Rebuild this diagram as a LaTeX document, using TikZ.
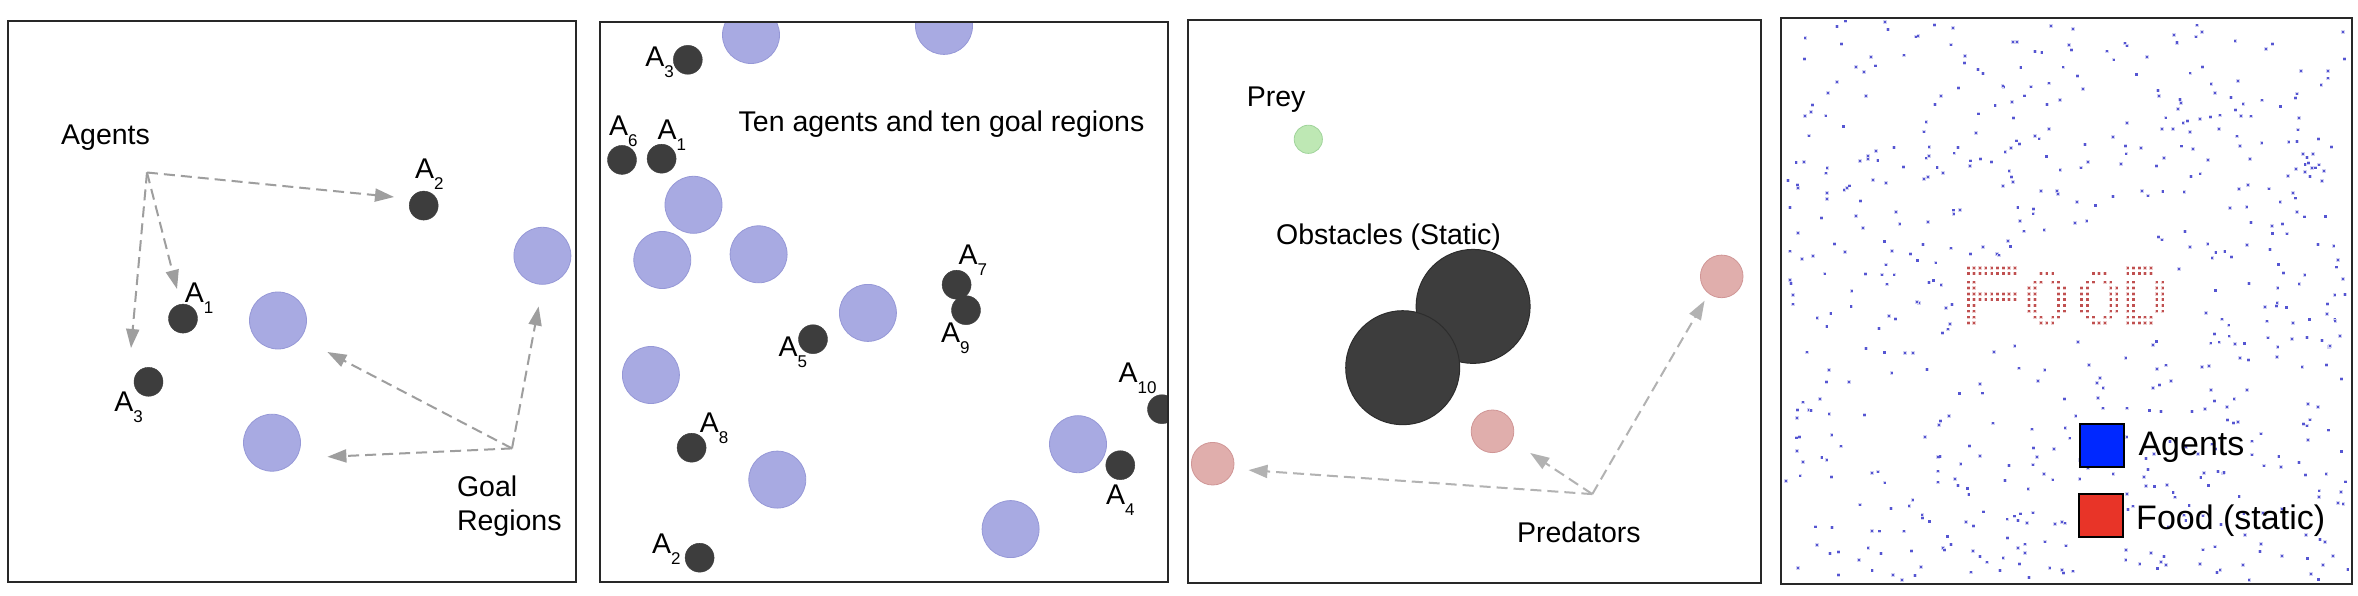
\documentclass[tikz,border=0pt]{standalone}
\usepackage{fontspec}
\setmainfont{Liberation Sans}
\usetikzlibrary{arrows.meta}
\definecolor{framecol}{RGB}{40,40,40}
\definecolor{goalblue}{RGB}{168,170,226}
\definecolor{goaledge}{RGB}{150,152,215}
\definecolor{agentdark}{RGB}{61,61,61}
\definecolor{arrowgray}{RGB}{158,158,158}
\definecolor{arrowlight}{RGB}{178,178,178}
\definecolor{predfill}{RGB}{224,174,172}
\definecolor{prededge}{RGB}{208,150,150}
\definecolor{preyfill}{RGB}{190,232,180}
\definecolor{preyedge}{RGB}{160,212,155}
\definecolor{dotblue}{RGB}{85,85,210}
\definecolor{dothalo}{RGB}{210,210,242}
\definecolor{fooddot}{RGB}{192,80,80}
\definecolor{foodhalo}{RGB}{238,205,205}
\definecolor{legblue}{RGB}{0,40,255}
\definecolor{legred}{RGB}{232,52,40}
\newcommand\agl[1]{A\raisebox{-11pt}{\fontsize{17}{17}\selectfont #1}}
\begin{document}
\begin{tikzpicture}[x=1pt,y=-1pt,
  frame/.style={draw=framecol,line width=2pt},
  agent/.style={circle,fill=agentdark,draw=agentdark,minimum size=29pt,inner sep=0pt},
  goal/.style={circle,fill=goalblue,draw=goaledge,line width=0.8pt,minimum size=57pt,inner sep=0pt},
  pred/.style={circle,fill=predfill,draw=prededge,line width=0.8pt,minimum size=42.6pt,inner sep=0pt},
  prey/.style={circle,fill=preyfill,draw=preyedge,line width=0.8pt,minimum size=28.2pt,inner sep=0pt},
  obst/.style={circle,fill=agentdark,draw={rgb,255:red,45;green,45;blue,45},line width=1pt,minimum size=114pt,inner sep=0pt},
  lbl/.style={anchor=base west,inner sep=0pt,font=\fontsize{28.5}{32}\selectfont},
  leglbl/.style={anchor=base west,inner sep=0pt,font=\fontsize{34}{38}\selectfont},
  darrow/.style={draw=arrowgray,line width=2pt,dash pattern=on 11pt off 6pt,-{Triangle[length=19pt,width=13pt]}},
  larrow/.style={draw=arrowlight,line width=2pt,dash pattern=on 11pt off 6pt,-{Triangle[length=19pt,width=13pt]}},
  legbox/.style={draw=black,line width=2.2pt,minimum width=44pt,minimum height=42.7pt,inner sep=0pt}
]
\useasboundingbox (0,0) rectangle (2358,596);
\fill[white] (0,0) rectangle (2358,596);

% ---------------- Panel 1 ----------------
\node[goal] (p1g1) at (278,320.5) {};
\node[goal] (p1g2) at (272,442.7) {};
\node[goal] (p1g3) at (542.4,255.8) {};
\node[agent] (p1a2) at (423.7,205.6) {};
\node[agent] (p1a1) at (183,318.6) {};
\node[agent] (p1a3) at (148.5,381.8) {};
\node[lbl] (p1l2) at (414.9,178.9) {\agl{2}};
\node[lbl] (p1l1) at (184.6,302.6) {\agl{1}};
\node[lbl] (p1l3) at (114.2,411.1) {\agl{3}};
\node[lbl] (p1agents) at (61,144.6) {Agents};
\node[lbl] (p1goal) at (456.8,496.8) {Goal};
\node[lbl] (p1regions) at (456.8,530) {Regions};
\coordinate (agsrc) at (147,172.5);
\coordinate (t2) at (394,197);
\coordinate (t1) at (177,289);
\coordinate (t3) at (131,348);
\draw[darrow] (agsrc) -- (t2);
\draw[darrow] (agsrc) -- (t1);
\draw[darrow] (agsrc) -- (t3);
\coordinate (gsrc) at (512,448.4);
\coordinate (g1) at (327.4,352);
\coordinate (g2) at (327.4,456.8);
\coordinate (g3) at (538.6,306.4);
\draw[darrow] (gsrc) -- (g1);
\draw[darrow] (gsrc) -- (g2);
\draw[darrow] (gsrc) -- (g3);
\draw[frame] (8,21) rectangle (576,582);

% ---------------- Panel 2 ----------------
\begin{scope}
\clip (599.5,22) rectangle (1168,582);
\node[goal] (p2g1) at (751,35) {};
\node[goal] (p2g2) at (944,25.9) {};
\node[goal] (p2g3) at (693.5,204.8) {};
\node[goal] (p2g4) at (662.3,260) {};
\node[goal] (p2g5) at (758.6,254.3) {};
\node[goal] (p2g6) at (867.9,312.9) {};
\node[goal] (p2g7) at (650.9,375) {};
\node[goal] (p2g8) at (777.3,479.6) {};
\node[goal] (p2g9) at (1078,444.2) {};
\node[goal] (p2g10) at (1010.6,529.1) {};
\node[agent] (p2a3) at (687.8,59.8) {};
\node[agent] (p2a6) at (622,159.9) {};
\node[agent] (p2a1) at (661.6,158.7) {};
\node[agent] (p2a7) at (956.6,284.7) {};
\node[agent] (p2a9) at (966,310.2) {};
\node[agent] (p2a5) at (813,339.2) {};
\node[agent] (p2a10) at (1162,409.2) {};
\node[agent] (p2a8) at (691.6,447.7) {};
\node[agent] (p2a4) at (1120.3,465.2) {};
\node[agent] (p2a2) at (699.6,557.7) {};
\end{scope}
\node[lbl] (p2l3) at (645.2,66.6) {\agl{3}};
\node[lbl] (p2l6) at (609,135.1) {\agl{6}};
\node[lbl] (p2l1) at (657.4,140) {\agl{1}};
\node[lbl] (p2l7) at (958.5,264.6) {\agl{7}};
\node[lbl] (p2l9) at (941,342.6) {\agl{9}};
\node[lbl] (p2l5) at (778.4,356.7) {\agl{5}};
\node[lbl] (p2l10) at (1118.4,382.6) {\agl{10}};
\node[lbl] (p2l8) at (699.6,432.8) {\agl{8}};
\node[lbl] (p2l4) at (1105.8,504.4) {\agl{4}};
\node[lbl] (p2l2) at (652,553.9) {\agl{2}};
\node[lbl] (p2title) at (738.5,131.3) {Ten agents and ten goal regions};
\draw[frame] (599.5,22) rectangle (1168,582);

% ---------------- Panel 3 ----------------
\node[lbl] (p3prey) at (1246.6,106.6) {Prey};
\node[prey] (p3y) at (1308.3,139.3) {};
\node[lbl] (p3obs) at (1275.9,244.8) {Obstacles (Static)};
\node[obst] (p3o1) at (1473.1,306.4) {};
\node[obst] (p3o2) at (1402.7,367.7) {};
\node[pred] (p3p1) at (1721.7,276.4) {};
\node[pred] (p3p2) at (1492.5,431.3) {};
\node[pred] (p3p3) at (1212.7,463.7) {};
\coordinate (psrc) at (1592.3,494.1);
\coordinate (q1) at (1704.6,300.7);
\coordinate (q2) at (1530.2,453);
\coordinate (q3) at (1248.5,470.1);
\draw[larrow] (psrc) -- (q1);
\draw[larrow] (psrc) -- (q2);
\draw[larrow] (psrc) -- (q3);
\node[lbl] (p3predators) at (1516.9,542.4) {Predators};
\draw[frame] (1188,20) rectangle (1760.5,583);

% ---------------- Panel 4 ----------------
\pgfmathsetseed{7311}
\foreach \i in {1,...,640}{
  \pgfmathsetmacro\rx{1785+564*rnd}
  \pgfmathsetmacro\ry{21+560*rnd}
  \pgfmathtruncatemacro\keep{((\rx>1955)&&(\rx<2172)&&(\ry>258)&&(\ry<334))?0:1}
  \ifnum\keep=1
    \fill[dothalo] (\rx-1.8,\ry-1.8) rectangle (\rx+1.8,\ry+1.8);
    \fill[dotblue] (\rx-1.1,\ry-1.1) rectangle (\rx+1.1,\ry+1.1);
  \fi
}
\begin{scope}[shift={(1900,220)},x=0.33333pt,y=-0.33333pt]
  \newcommand\fd[2]{\fill[foodhalo] (#1-5,#2-5) rectangle (#1+5,#2+5);
    \fill[fooddot] (#1-3.5,#2-3.5) rectangle (#1+3.5,#2+3.5);}
  % F
  \foreach \yy in {144,161,222,239}{\foreach \xx in {205,222,240,257,275,292,310,327,345}{\fd{\xx}{\yy}}}
  \foreach \yy in {187,204,257,274,292,309}{\foreach \xx in {205,222}{\fd{\xx}{\yy}}}
  % O O
  \foreach \ox in {0,157}{
    \foreach \yy in {161,309}{\foreach \xx in {423,440,458}{\fd{\xx+\ox}{\yy}}}
    \foreach \yy in {187,292}{\foreach \xx in {405,423,458,475}{\fd{\xx+\ox}{\yy}}}
    \foreach \yy in {204,222,239,257,274}{\foreach \xx in {387,405,475,493}{\fd{\xx+\ox}{\yy}}}
  }
  % D
  \foreach \yy in {144,161,292,309}{\foreach \xx in {683,700,718,735,753}{\fd{\xx}{\yy}}}
  \foreach \yy in {187,204,222,239,257,274}{\foreach \xx in {683,700,770,788}{\fd{\xx}{\yy}}}
\end{scope}
\node[legbox,fill=legblue] (legA) at (2102,445.3) {};
\node[legbox,fill=legred] (legF) at (2100.7,515.3) {};
\node[leglbl] (legAt) at (2138.3,455) {Agents};
\node[leglbl] (legFt) at (2136,529.3) {Food (static)};
\draw[frame] (1781,18) rectangle (2352,584);
\end{tikzpicture}
\end{document}
